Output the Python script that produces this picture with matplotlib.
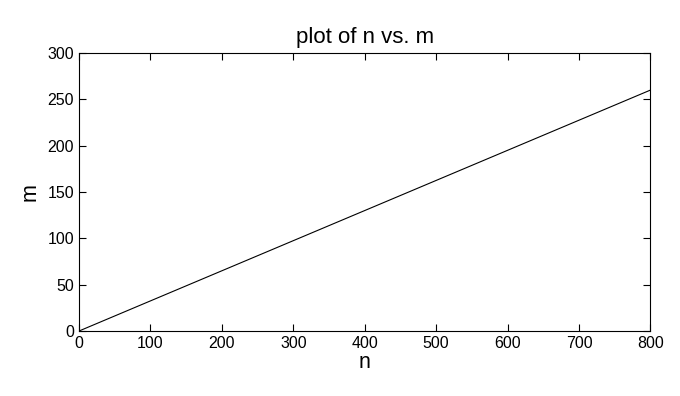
import matplotlib.pyplot as plt

plt.rcParams['font.family'] = ['Liberation Sans', 'DejaVu Sans']

# values
n_vals = [0, 100, 200, 300, 400, 500, 600, 700, 800]
m_vals = [0, 32.5, 65, 97.5, 130, 162.5, 195, 227.5, 260]
x_ticks = [0, 100, 200, 300, 400, 500, 600, 700, 800]
y_ticks = [0, 50, 100, 150, 200, 250, 300]

fig = plt.figure(figsize=(6.8, 3.96), dpi=100)
ax = fig.add_axes([0.1162, 0.1641, 0.8404, 0.7021])

ax.plot(n_vals, m_vals, color='black', linewidth=0.8)

ax.set_xlim(0, 800)
ax.set_ylim(0, 300)
ax.set_xticks(x_ticks)
ax.set_yticks(y_ticks)
ax.tick_params(direction='in', top=True, right=True, length=5, width=0.8,
               labelsize=11.5, pad=3.5)
for s in ax.spines.values():
    s.set_linewidth(0.8)

ax.set_title('plot of n vs. m', fontsize=16, pad=7)
ax.set_xlabel('n', fontsize=15.5, labelpad=1)
ax.set_ylabel('m', fontsize=15.5, labelpad=5)

fig.savefig('out.png', dpi=100)
